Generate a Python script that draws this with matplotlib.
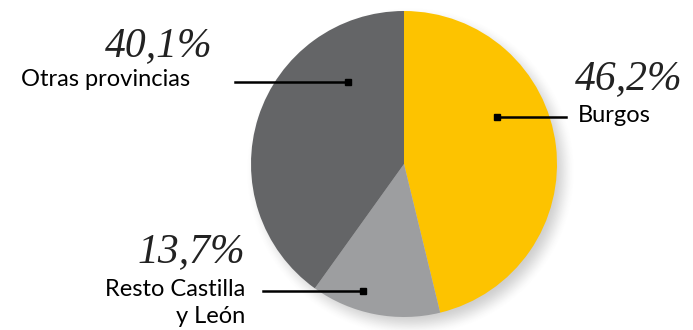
import numpy as np
import matplotlib
matplotlib.use("Agg")
import matplotlib.pyplot as plt

# Data
labels = ["Burgos", "Resto Castilla\ny León", "Otras provincias"]
values = [46.2, 13.7, 40.1]
pct_labels = ["46,2%", "13,7%", "40,1%"]
colors = ["#FDC300", "#9D9EA0", "#646567"]

W, H = 693, 330
fig = plt.figure(figsize=(W / 100, H / 100), dpi=100)
ax = fig.add_axes([0, 0, 1, 1])

cx, cy, r = 404, H - 164, 153

# soft shadow (bottom-right)
yy, xx = np.mgrid[0:H, 0:W]
sx, sy = cx + 6, (164 + 7)
d = np.sqrt((xx - sx) ** 2 + (yy - sy) ** 2)
t = np.clip((r + 12 - d) / 24, 0, 1)
a = t * t * (3 - 2 * t) * 0.35
img = np.zeros((H, W, 4))
img[..., :3] = 0.45
img[..., 3] = a
ax.imshow(img, extent=(0, W, 0, H), origin="upper", zorder=1, interpolation="bilinear")

ax.pie(values, colors=colors, startangle=90, counterclock=False,
       center=(cx, cy), radius=r, frame=True,
       wedgeprops=dict(linewidth=0, zorder=2))
ax.set_xlim(0, W)
ax.set_ylim(0, H)
ax.set_aspect("equal")
ax.axis("off")

sans = "Lato"
pct_font = dict(family="Liberation Serif", style="italic", size=30, color="#222222")
lab_font = dict(family=sans, size=17, color="black")

# Burgos
ax.plot([497, 566], [H - 117, H - 117], color="black", lw=1.8, zorder=3)
ax.plot([497], [H - 117], marker="s", ms=5, color="black", zorder=3)
ax.text(575, H - 89, pct_labels[0], ha="left", va="baseline", **pct_font)
ax.text(578, H - 122, labels[0], ha="left", va="baseline", **lab_font)

# Otras provincias
ax.plot([235, 348], [H - 82, H - 82], color="black", lw=1.8, zorder=3)
ax.plot([348], [H - 82], marker="s", ms=5, color="black", zorder=3)
ax.text(213, H - 56, pct_labels[2], ha="right", va="baseline", **pct_font)
ax.text(190, H - 86, labels[2], ha="right", va="baseline", **lab_font)

# Resto Castilla y León
ax.plot([263, 363], [H - 291, H - 291], color="black", lw=1.8, zorder=3)
ax.plot([363], [H - 291], marker="s", ms=5, color="black", zorder=3)
ax.text(245, H - 262, pct_labels[1], ha="right", va="baseline", **pct_font)
ax.text(245, H - 296, "Resto Castilla", ha="right", va="baseline", **lab_font)
ax.text(245, H - 323, "y León", ha="right", va="baseline", **lab_font)

fig.savefig("out.png", dpi=100)
